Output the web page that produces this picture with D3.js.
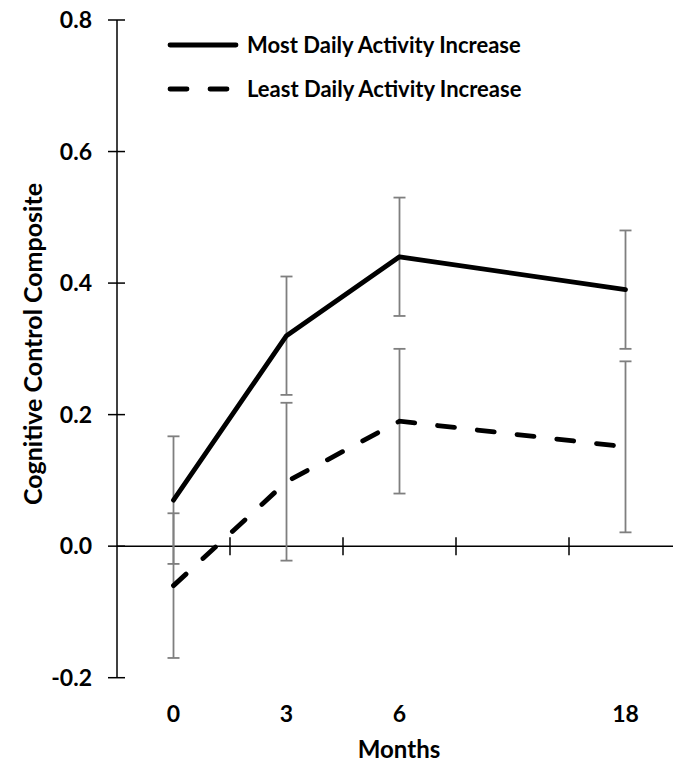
<!DOCTYPE html>
<html>
<head>
<meta charset="utf-8">
<script src="https://cdn.jsdelivr.net/npm/d3@7"></script>
<style>
  html, body { margin: 0; padding: 0; background: #fff; }
  svg { display: block; }
  text { font-family: Lato, "Open Sans", sans-serif; font-weight: bold; fill: #000; }
</style>
</head>
<body>
<svg id="chart" width="673" height="769"></svg>
<script>
// ---- data ----
const categories = ["0", "3", "6", "12", "18"];
const tickLabels = ["0", "3", "6", "", "18"];
const seriesNames = ["Most Daily Activity Increase", "Least Daily Activity Increase"];
const months = ["0", "3", "6", "18"];
const mostValues = [0.07, 0.32, 0.44, 0.39];
const mostErrors = [0.097, 0.09, 0.09, 0.09];
const leastValues = [-0.06, 0.098, 0.19, 0.151];
const leastErrors = [0.11, 0.12, 0.11, 0.13];
const yTicks = [-0.2, 0.0, 0.2, 0.4, 0.6, 0.8];

const svg = d3.select("#chart");
const x = d3.scaleBand().domain(categories).range([117, 682]).paddingInner(0).paddingOuter(0);
const y = d3.scaleLinear().domain([-0.2, 0.8]).range([677.7, 20]);
const cx = m => x(m) + x.bandwidth() / 2;

// y axis
const yAxis = svg.append("g").attr("transform", "translate(117,0)");
yAxis.append("line").attr("x1", 0).attr("x2", 0).attr("y1", y(0.8)).attr("y2", y(-0.2))
  .attr("stroke", "#000").attr("stroke-width", 1.5);
yAxis.selectAll("line.tick").data(yTicks).join("line").attr("class", "tick")
  .attr("x1", -9).attr("x2", 8).attr("y1", d => y(d)).attr("y2", d => y(d))
  .attr("stroke", "#000").attr("stroke-width", 1.5);
yAxis.selectAll("text").data(yTicks).join("text")
  .attr("x", -25).attr("y", d => y(d)).attr("dy", "0.36em")
  .attr("text-anchor", "end").style("font-size", "23px")
  .text(d => d3.format(".1f")(d).replace("\u2212", "-"));

// x axis at y=0
const xAxis = svg.append("g").attr("transform", `translate(0,${y(0)})`);
xAxis.append("line").attr("x1", 117).attr("x2", 682).attr("y1", 0).attr("y2", 0)
  .attr("stroke", "#000").attr("stroke-width", 1.5);
xAxis.selectAll("line.tick").data(categories.slice(1)).join("line").attr("class", "tick")
  .attr("x1", d => x(d)).attr("x2", d => x(d)).attr("y1", -9).attr("y2", 9)
  .attr("stroke", "#000").attr("stroke-width", 1.5);
svg.selectAll("text.xlab").data(categories).join("text").attr("class", "xlab")
  .attr("x", d => cx(d)).attr("y", 714).attr("dy", "0.36em")
  .attr("text-anchor", "middle").style("font-size", "23px")
  .text((d, i) => tickLabels[i]);

// axis titles
svg.append("text").attr("x", 399).attr("y", 749).attr("dy", "0.36em")
  .attr("text-anchor", "middle").style("font-size", "24px").text("Months");
svg.append("text").attr("transform", "translate(33,344) rotate(-90)").attr("dy", "0.36em")
  .attr("text-anchor", "middle").style("font-size", "25px").text("Cognitive Control Composite");

// error bars
function errorBars(vals, errs) {
  const g = svg.append("g").attr("stroke", "#7f7f7f").attr("stroke-width", 1.8).attr("fill", "none");
  months.forEach((m, i) => {
    const xc = cx(m), top = y(vals[i] + errs[i]), bot = y(vals[i] - errs[i]);
    g.append("line").attr("x1", xc).attr("x2", xc).attr("y1", top).attr("y2", bot);
    g.append("line").attr("x1", xc - 6).attr("x2", xc + 6).attr("y1", top).attr("y2", top);
    g.append("line").attr("x1", xc - 6).attr("x2", xc + 6).attr("y1", bot).attr("y2", bot);
  });
}
errorBars(mostValues, mostErrors);
errorBars(leastValues, leastErrors);

const line = d3.line().x((d, i) => cx(months[i])).y(d => y(d));
svg.append("path").datum(mostValues).attr("d", line).attr("fill", "none")
  .attr("stroke", "#000").attr("stroke-width", 4.8).attr("stroke-linejoin", "round").attr("stroke-linecap", "round");
svg.append("path").datum(leastValues).attr("d", line).attr("fill", "none")
  .attr("stroke", "#000").attr("stroke-width", 4.8).attr("stroke-linecap", "round")
  .attr("stroke-dasharray", "17,23");

// legend
const legend = svg.append("g");
const legY = [45, 89];
legend.selectAll("line").data(seriesNames).join("line")
  .attr("x1", 170).attr("x2", 236).attr("y1", (d, i) => legY[i]).attr("y2", (d, i) => legY[i])
  .attr("stroke", "#000").attr("stroke-width", 4.8).attr("stroke-linecap", "round")
  .attr("stroke-dasharray", (d, i) => i ? "17,23" : null);
legend.selectAll("text").data(seriesNames).join("text")
  .attr("x", 247).attr("y", (d, i) => legY[i]).attr("dy", "0.36em")
  .style("font-size", "22px").text(d => d);
</script>
</body>
</html>
